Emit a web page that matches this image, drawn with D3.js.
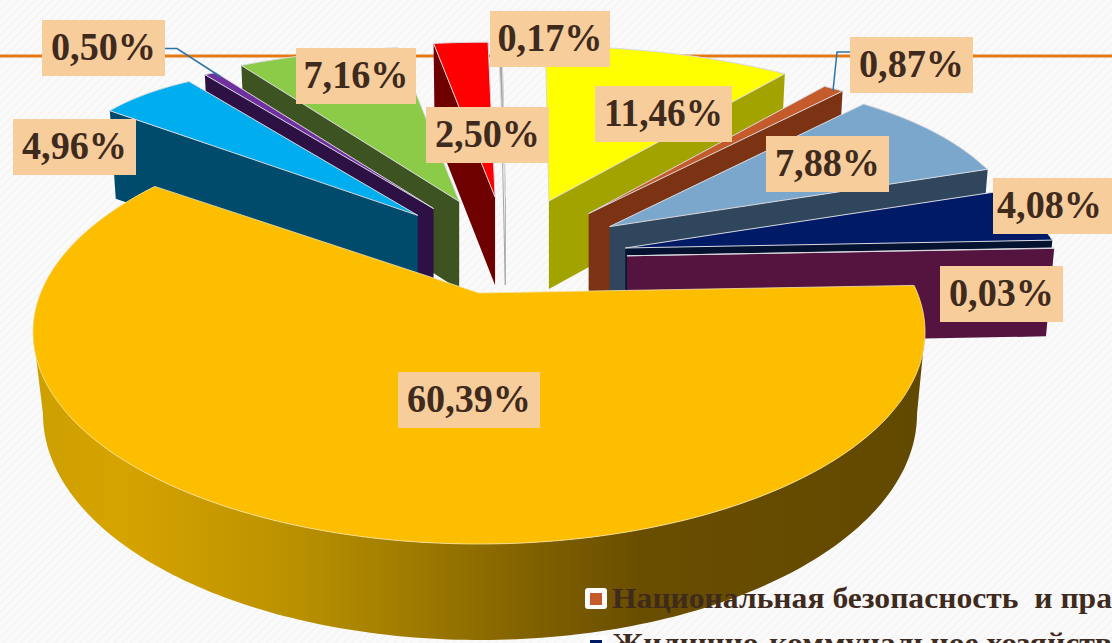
<!DOCTYPE html>
<html><head><meta charset="utf-8">
<style>html,body{margin:0;padding:0;background:#f9f9f9;overflow:hidden}svg{display:block}</style>
<script src="https://cdn.jsdelivr.net/npm/d3@7"></script></head>
<body><svg id="c" width="1112" height="643"></svg>
<script>
const shares = [60.39,4.96,0.50,7.16,2.50,0.17,11.46,0.87,7.88,4.08,0.03];
const labels = ["60,39%","4,96%","0,50%","7,16%","2,50%","0,17%","11,46%","0,87%","7,88%","4,08%","0,03%"];
const topColors = ["#fdbe00","#00aeef","#7030a0","#8ccb47","#ff0000","#a5a5a5","#ffff00","#c55a2b","#7ba7cc","#001a66","#7f5a8a"];
const sideColors = ["url(#bigSide)","#004a6b","#2d1145","#3d5322","#6e0000","#ffffff","#a3a300","#7b3314","#30465c","#04112f","#55143f"];
const drawOrder = [5,4,3,2,1,6,7,8,9,10,0];
const labelBoxes = [[398,372,142,56],[13,119,123,56],[42,20,123,56],[296,48,120,56],[426,107,123,56],[490,11,120,56],[595,86,137,56],[850,37,123,56],[766,136,123,56],[993,178,119,56],[940,266,123,56]];
const legendNames = ["Национальная безопасность  и пра","Жилищно-коммунальное хозяйств"];
const legendColors = ["#c55a2b","#001a66"];

const svg = d3.select("#c");
const defs = svg.append("defs");
const pat = defs.append("pattern").attr("id","bg").attr("width",6).attr("height",6)
  .attr("patternUnits","userSpaceOnUse").attr("patternTransform","rotate(45)");
pat.append("rect").attr("width",6).attr("height",6).attr("fill","#fafafa");
pat.append("rect").attr("width",2).attr("height",6).attr("fill","#f5f5f5");
const grad = defs.append("linearGradient").attr("id","bigSide").attr("gradientUnits","userSpaceOnUse")
  .attr("x1",33).attr("x2",925).attr("y1",0).attr("y2",0);
[[0,"#cc9f00"],[.1,"#d6a400"],[.2,"#c89a00"],[.3,"#b89000"],[.42,"#a07c00"],[.57,"#7e5f00"],[.68,"#6a4e00"],[1,"#614900"]]
  .forEach(s=>grad.append("stop").attr("offset",s[0]).attr("stop-color",s[1]));

svg.append("rect").attr("width",1112).attr("height",643).attr("fill","url(#bg)");
svg.append("rect").attr("x",0).attr("y",54.5).attr("width",1112).attr("height",3).attr("fill","#e57a14");

const deg = Math.PI/180;
const arcs = d3.pie().sort(null).startAngle(88*deg).endAngle((88+360)*deg)(shares);
const cx=505, cy=258, squash=.5, explode=122;
const bigApex=[479,293], topEll={x:479,y:332,rx:446,ry:212}, botEll={x:480,y:414,rx:437,ry:226};
const rSmall = d3.scaleLinear().domain([0,1]).range([432,310]);
const xLeft = d3.scaleLinear().domain([.57,.8]).range([1.03,1.12]).clamp(true);
const xRight = d3.scaleLinear().domain([.3,.7]).range([1,1.06]).clamp(true);
const depthSmall=88;

function apex(i,a){
  if(i===0) return bigApex;
  const m=(a.startAngle+a.endAngle)/2;
  return [cx+explode*Math.sin(m), cy-explode*squash*Math.cos(m)];
}
function rim(i,o,t){
  const c=Math.cos(t), s=Math.sin(t);
  if(i===0){
    const dx=s*(s<0&&c>0?1+.14*c:1), dy=-.5*c;
    const px=(o[0]-topEll.x)/topEll.rx, py=(o[1]-topEll.y)/topEll.ry, qx=dx/topEll.rx, qy=dy/topEll.ry;
    const A=qx*qx+qy*qy, B=2*(px*qx+py*qy), C=px*px+py*py-1;
    const k=(-B+Math.sqrt(B*B-4*A*C))/(2*A);
    return [o[0]+k*dx,o[1]+k*dy];
  }
  const r=rSmall(c);
  const m=s<0?xLeft(c):xRight(c);
  return [o[0]+r*s*m-6*Math.max(c,0), o[1]-r*squash*c];
}
function lower(p){
  const phi=Math.atan2((p[1]-topEll.y)/topEll.ry,(p[0]-topEll.x)/topEll.rx);
  return [botEll.x+botEll.rx*Math.cos(phi),botEll.y+botEll.ry*Math.sin(phi)];
}
const line=d3.line();
drawOrder.forEach(i=>{
  const a=arcs[i], o=apex(i,a);
  const n=Math.max(2,Math.ceil((a.endAngle-a.startAngle)/(1*deg)));
  const pts=d3.range(n+1).map(k=>rim(i,o,a.startAngle+(a.endAngle-a.startAngle)*k/n));
  const g=svg.append("g");
  if(i===0){
    g.append("path").attr("d",line(pts.concat(pts.map(lower).reverse()))+"Z").attr("fill",sideColors[0]);
    // straight silhouette joining the two rims at the far left and far right
    const tl=[topEll.x-topEll.rx,topEll.y], bl=[botEll.x-botEll.rx,botEll.y];
    const tr=[topEll.x+topEll.rx,topEll.y], br=[botEll.x+botEll.rx,botEll.y];
    g.append("path").attr("d",line([tl,bl,[bl[0]+160,bl[1]],[tl[0]+160,tl[1]]])+"Z").attr("fill",sideColors[0]);
    g.append("path").attr("d",line([tr,br,[br[0]-160,br[1]],[tr[0]-160,tr[1]]])+"Z").attr("fill",sideColors[0]);
  } else {
    const m=(a.startAngle+a.endAngle)/2;
    const e=Math.sin(m)<0?pts[0]:pts[n];
    const q=[o,e,[e[0]+(cx-e[0])*.015,e[1]+depthSmall],[o[0],o[1]+depthSmall]];
    g.append("path").attr("d",line(q)+"Z").attr("fill",sideColors[i]).attr("stroke",i===5?"#a5a5a5":"none").attr("stroke-width",1);
  }
  g.append("path").attr("d",line([o,...pts])+"Z").attr("fill",topColors[i]).attr("stroke",i===0?"#f4e3a8":"#d9d9e0").attr("stroke-width",i===0?.8:1);
});

svg.append("path").attr("d",line([[165,48.5],[177,48.5],[221,77]])).attr("fill","none").attr("stroke","#2e75a6").attr("stroke-width",1.5);
svg.append("path").attr("d",line([[850,52],[837,52],[833,91]])).attr("fill","none").attr("stroke","#2e75a6").attr("stroke-width",1.5);

labels.forEach((t,i)=>{
  const b=labelBoxes[i];
  const w=t.length>5?b[2]-18:105;
  svg.append("rect").attr("x",b[0]).attr("y",b[1]).attr("width",b[2]).attr("height",b[3]).attr("fill","#f7cd9c");
  svg.append("text").attr("x",b[0]+(b[2]-w)/2-(i===9?3:0)).attr("y",b[1]+40)
    .attr("font-family","'Liberation Serif',serif").attr("font-weight","bold").attr("font-size",41)
    .attr("textLength",w).attr("lengthAdjust","spacingAndGlyphs").attr("fill","#3f2a1e").text(t);
});

legendNames.forEach((t,i)=>{
  const y=588+47*i;
  svg.append("rect").attr("x",585).attr("y",y).attr("width",22).attr("height",21).attr("rx",3).attr("fill","#ffffff");
  svg.append("rect").attr("x",590).attr("y",y+5).attr("width",12).attr("height",12).attr("fill",legendColors[i]);
  svg.append("text").attr("x",612).attr("y",608+45*i).attr("font-family","'Liberation Serif',serif").attr("font-weight","bold")
    .attr("font-size",30).attr("fill","#3f2a1e").attr("textLength",500).attr("lengthAdjust","spacingAndGlyphs")
    .style("white-space","pre").text(t);
});
</script></body></html>
